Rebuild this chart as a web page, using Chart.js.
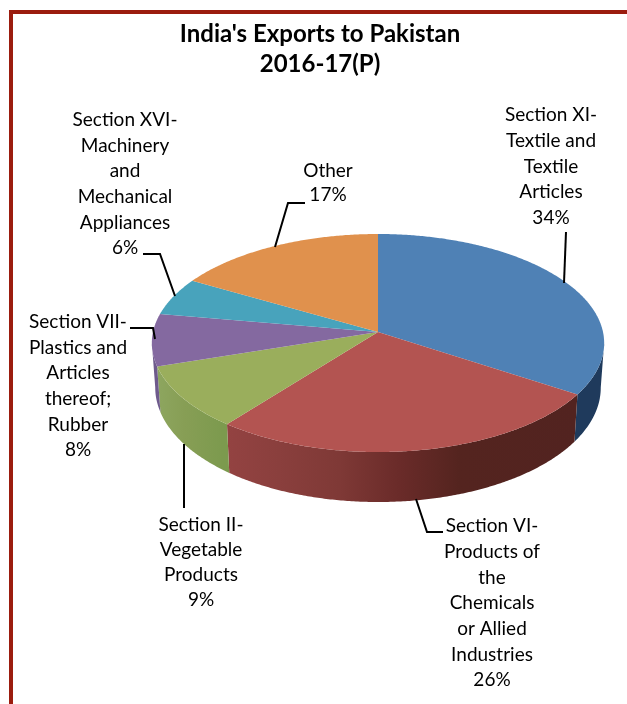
<!DOCTYPE html>
<html>
<head>
<meta charset="utf-8">
<script src="https://cdn.jsdelivr.net/npm/chart.js@4/dist/chart.umd.min.js"></script>
<style>
  html, body { margin: 0; padding: 0; background: #fff; overflow: hidden; }
  #frame { position: absolute; left: 9px; top: 10px; width: 618px; height: 694px; border-left: 4px solid #9b1c0e; border-top: 4px solid #9b1c0e; }
  canvas { display: block; }
</style>
</head>
<body>
<div id="frame"><canvas id="myChart" width="614" height="690"></canvas></div>
<script>
const sections = [
  ["Section XI-", "Textile and", "Textile", "Articles"],
  ["Section VI-", "Products of", "the", "Chemicals", "or Allied", "Industries"],
  ["Section II-", "Vegetable", "Products"],
  ["Section VII-", "Plastics and", "Articles", "thereof;", "Rubber"],
  ["Section XVI-", "Machinery", "and", "Mechanical", "Appliances"],
  ["Other"],
];
const shares = [34.2, 26.4, 9.4, 7.7, 5.6, 16.7];
const topColors = ["#4f81b5", "#b35451", "#9aae5c", "#8469a0", "#48a3bc", "#e0914d"];
const titleLines = ["India's Exports to Pakistan", "2016-17(P)"];

// label placement, in page pixels
const labelX = [551, 492, 201, 78, 125, 328];
const labelY = [115, 526, 525, 322, 120, 171];
const lineGap = [25.7, 25.7, 25, 25.6, 25.6, 24];
const leaders = [
  [[566, 232], [564, 283]],
  [[443, 532], [427, 532], [416, 499]],
  [[184, 508], [184, 444]],
  [[130, 328], [153, 328], [155, 339]],
  [[143, 254], [160, 254], [175, 296]],
  [[305, 203], [288, 203], [275, 247]],
];

// pie projection
const apex = { x: 378, y: 332 };
const radiusX = 225;
const radiusY = 107.9;
const tilt = 0.101;
const frameLeft = 13;
const frameTop = 14;

function rim(angle) {
  const s = Math.sin(angle), c = Math.cos(angle);
  const w = 1 + tilt * c;
  return { x: apex.x + radiusX * s / w, y: apex.y - radiusY * c / w };
}
function lowerRim(angle) {
  const p = rim(angle);
  return { x: apex.x + (p.x - apex.x) * 0.985, y: p.y + 44 - 6 * Math.cos(angle) };
}
function wallFill(ctx, i) {
  if (i === 0) return "#1f3a5c";
  if (i > 2) return "#6e5a8c";
  const g = ctx.createLinearGradient(150, 0, 580, 0);
  if (i === 1) {
    g.addColorStop(0.17, "#944342");
    g.addColorStop(0.3, "#8a3f3d");
    g.addColorStop(0.44, "#7f3936");
    g.addColorStop(0.58, "#6a2b29");
    g.addColorStop(0.72, "#54241f");
    g.addColorStop(1, "#522320");
  } else {
    g.addColorStop(0, "#8fa862");
    g.addColorStop(0.08, "#879e55");
    g.addColorStop(0.17, "#7c9a4e");
  }
  return g;
}

const pie3d = {
  id: "pie3d",
  beforeDatasetsDraw(chart) {
    const ctx = chart.ctx;
    const arcs = chart.getDatasetMeta(0).data;
    const from = 95.8 * Math.PI / 180;
    const to = 264.2 * Math.PI / 180;
    const step = Math.PI / 360;
    ctx.save();
    ctx.translate(-frameLeft, -frameTop);
    arcs.forEach((arc, i) => {
      const a0 = arc.startAngle + Math.PI / 2;
      const a1 = arc.endAngle + Math.PI / 2;
      const lo = Math.max(a0, from);
      const hi = Math.min(a1, to);
      if (hi <= lo) return;
      ctx.beginPath();
      for (let a = lo; a < hi; a += step) { const p = rim(a); ctx.lineTo(p.x, p.y); }
      const e = rim(hi); ctx.lineTo(e.x, e.y);
      for (let a = hi; a > lo; a -= step) { const p = lowerRim(a); ctx.lineTo(p.x, p.y); }
      const b = lowerRim(lo); ctx.lineTo(b.x, b.y);
      ctx.closePath();
      ctx.fillStyle = wallFill(ctx, i);
      ctx.fill();
    });
    arcs.forEach((arc, i) => {
      const a0 = arc.startAngle + Math.PI / 2;
      const a1 = arc.endAngle + Math.PI / 2;
      ctx.beginPath();
      ctx.moveTo(apex.x, apex.y);
      for (let a = a0; a < a1; a += step) { const p = rim(a); ctx.lineTo(p.x, p.y); }
      const e = rim(a1); ctx.lineTo(e.x, e.y);
      ctx.closePath();
      ctx.fillStyle = arc.options.backgroundColor;
      ctx.fill();
    });
    ctx.restore();
    return false;
  },
  afterDraw(chart) {
    const ctx = chart.ctx;
    const total = shares.reduce((sum, v) => sum + v, 0);
    ctx.save();
    ctx.translate(-frameLeft, -frameTop);
    ctx.strokeStyle = "#000";
    ctx.lineWidth = 2;
    leaders.forEach((pts) => {
      ctx.beginPath();
      pts.forEach((p) => ctx.lineTo(p[0], p[1]));
      ctx.stroke();
    });
    ctx.fillStyle = "#000";
    ctx.font = "19px Lato";
    ctx.textAlign = "center";
    ctx.textBaseline = "middle";
    sections.forEach((lines, i) => {
      const all = lines.concat(Math.round(shares[i] / total * 100) + "%");
      all.forEach((t, n) => ctx.fillText(t, labelX[i], labelY[i] + n * lineGap[i]));
    });
    ctx.restore();
  },
};

new Chart(document.getElementById("myChart"), {
  type: "pie",
  data: {
    labels: sections.map((s) => s.join(" ")),
    datasets: [{ data: shares, backgroundColor: topColors, borderWidth: 0 }],
  },
  options: {
    responsive: false,
    animation: false,
    plugins: {
      legend: { display: false },
      tooltip: { enabled: false },
      title: {
        display: true,
        text: titleLines,
        color: "#000",
        font: { family: "Lato", size: 24, weight: "bold", lineHeight: 1.22 },
        padding: { top: 6, bottom: 0 },
      },
    },
  },
  plugins: [pie3d],
});
</script>
</body>
</html>
